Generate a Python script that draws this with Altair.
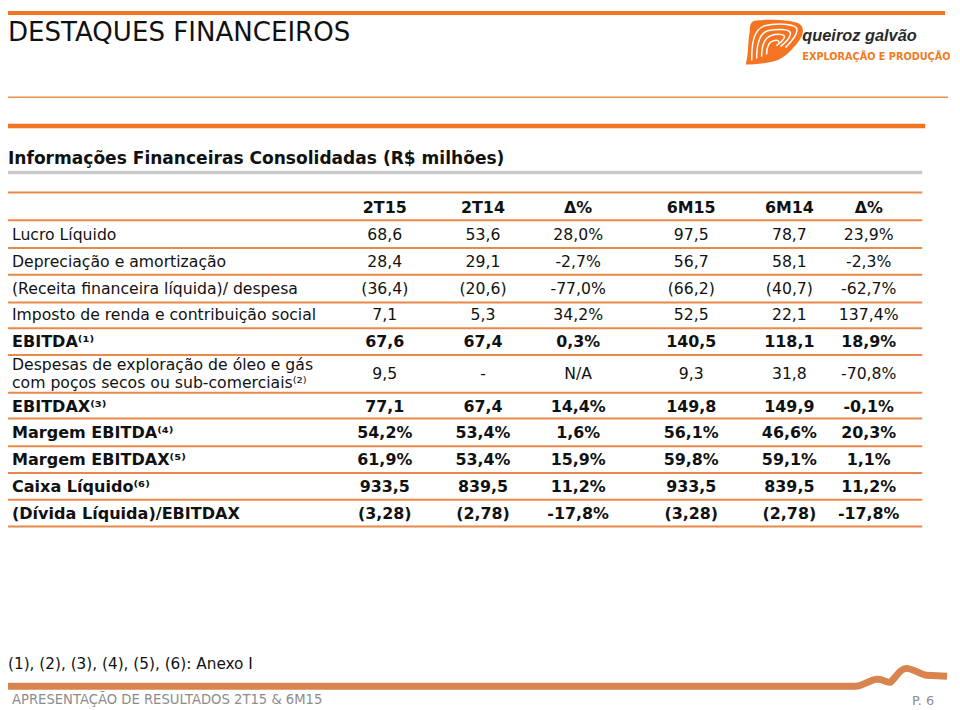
import altair as alt
import pandas as pd

# ---------------- data ----------------
title_text = "DESTAQUES FINANCEIROS"
section_text = "Informações Financeiras Consolidadas (R$ milhões)"
brand_name = "queiroz galvão"
brand_sub = "EXPLORAÇÃO E PRODUÇÃO"
footnote_text = "(1), (2), (3), (4), (5), (6): Anexo I"
footer_text = "APRESENTAÇÃO DE RESULTADOS 2T15 & 6M15"
page_text = "P. 6"

col_headers = ["2T15", "2T14", "Δ%", "6M15", "6M14", "Δ%"]
row_labels = [
    "Lucro Líquido",
    "Depreciação e amortização",
    "(Receita financeira líquida)/ despesa",
    "Imposto de renda e contribuição social",
    "EBITDA⁽¹⁾",
    "Despesas de exploração de óleo e gás\n com poços secos ou sub-comerciais⁽²⁾",
    "EBITDAX⁽³⁾",
    "Margem EBITDA⁽⁴⁾",
    "Margem EBITDAX⁽⁵⁾",
    "Caixa Líquido⁽⁶⁾",
    "(Dívida Líquida)/EBITDAX",
]
row_bold = [False, False, False, False, True, False, True, True, True, True, True]
val_2t15 = ["68,6", "28,4", "(36,4)", "7,1", "67,6", "9,5", "77,1", "54,2%", "61,9%", "933,5", "(3,28)"]
val_2t14 = ["53,6", "29,1", "(20,6)", "5,3", "67,4", "-", "67,4", "53,4%", "53,4%", "839,5", "(2,78)"]
val_d_q = ["28,0%", "-2,7%", "-77,0%", "34,2%", "0,3%", "N/A", "14,4%", "1,6%", "15,9%", "11,2%", "-17,8%"]
val_6m15 = ["97,5", "56,7", "(66,2)", "52,5", "140,5", "9,3", "149,8", "56,1%", "59,8%", "933,5", "(3,28)"]
val_6m14 = ["78,7", "58,1", "(40,7)", "22,1", "118,1", "31,8", "149,9", "46,6%", "59,1%", "839,5", "(2,78)"]
val_d_s = ["23,9%", "-2,3%", "-62,7%", "137,4%", "18,9%", "-70,8%", "-0,1%", "20,3%", "1,1%", "11,2%", "-17,8%"]
columns = [val_2t15, val_2t14, val_d_q, val_6m15, val_6m14, val_d_s]

# ---------------- layout (page pixels) ----------------
W, H = 952, 702
OFF = 8
col_x = [388, 487, 583, 697, 796, 876]
row_y = [234, 261, 288, 315, 342, 374, 407, 434, 461, 488, 515]
header_y = 207
rule_y = [191, 219, 247, 274, 302, 328, 355, 393, 419, 447, 474, 501, 528]
label_x = 12
LH = 18
table_x0, table_x1 = 4, 930

ORANGE = "#f47421"
LINE_OR = "#e8894a"
TXT = "#111111"
FONT = "DejaVu Sans"


def px(v):
    return v - OFF


XS = alt.Scale(domain=[0, W], range=[0, W], nice=False, zero=False)
YS = alt.Scale(domain=[0, H], range=[0, H], nice=False, zero=False)


def enc_xy():
    return dict(x=alt.X("x:Q", scale=XS, axis=None), y=alt.Y("y:Q", scale=YS, axis=None))


def text_layer(rows, size, weight="normal", color=TXT, align="left",
               baseline="middle", font=FONT, **kw):
    df = pd.DataFrame(rows, columns=["x", "y", "t"])
    return alt.Chart(df).mark_text(
        align=align, baseline=baseline, fontSize=size, fontWeight=weight,
        color=color, font=font, **kw
    ).encode(text="t:N", **enc_xy())


# ---------------- table cells ----------------
reg_cells, bold_cells = [], []
for j, h in enumerate(col_headers):
    bold_cells.append((px(col_x[j]), px(header_y), h))
for i in range(len(row_labels)):
    for j, col in enumerate(columns):
        cell = (px(col_x[j]), px(row_y[i]), col[i])
        (bold_cells if row_bold[i] else reg_cells).append(cell)


def label_row(i):
    n = row_labels[i].count("\n") + 1
    return (px(label_x), px(row_y[i] - (n - 1) * LH / 2), row_labels[i])


reg_labels = [label_row(i) for i in range(len(row_labels)) if not row_bold[i]]
bold_labels = [label_row(i) for i in range(len(row_labels)) if row_bold[i]]

# ---------------- rules ----------------
rules = []
for y in rule_y:
    rules.append((px(table_x0), px(table_x1), px(y), LINE_OR, 2.0))
rules += [
    (0, px(953), 2, ORANGE, 4.0),
    (0, px(956), px(95), "#e4914f", 1.5),
    (0, px(933), px(124), ORANGE, 4.5),
    (0, px(930), px(171), "#c9c9c9", 3.5),
]
rules_df = pd.DataFrame(rules, columns=["x", "x2", "y", "c", "w"])
rule_layer = alt.Chart(rules_df).mark_rule().encode(
    x=alt.X("x:Q", scale=XS, axis=None),
    x2="x2:Q",
    y=alt.Y("y:Q", scale=YS, axis=None),
    color=alt.Color("c:N", scale=None),
    strokeWidth=alt.StrokeWidth("w:Q", scale=None),
)

one = pd.DataFrame({"k": [0]})

# footer wave band
wave_path = ("M -2 681 L 855 681 C 862 681 868 675 876 674 C 882 673 885 678 890 677 "
             "C 897 670 900 663 906 663 C 912 663 918 668 926 670 L 947 671")
wave = alt.Chart(one).mark_point(
    shape=wave_path, size=4, filled=False, stroke="#d9844f", strokeWidth=7,
    opacity=1, strokeCap="butt", strokeJoin="round"
).encode(x=alt.value(0), y=alt.value(0))

# logo swirl
logo_outer = ("M -20 -21 C -8 -23 18 -22 25 -18 C 31 -14 29 -6 24 0 C 18 8 10 16 2 19 "
              "C -8 22 -20 23 -29 23 C -26 12 -27 0 -25 -10 C -25 -16 -24 -20 -20 -21 Z")
logo_lines = ("M -23 19 C -23 4 -22 -12 -10 -16 C 2 -19 19 -18 22 -14 C 25 -9 18 -1 11 6 "
              "M -18 17 C -18 5 -16 -8 -7 -11 C 2 -13 15 -13 16 -9 C 17 -5 12 0 6 5 "
              "M -13 15 C -13 6 -11 -3 -4 -6 C 2 -8 10 -8 10 -5 C 10 -2 6 1 2 4 "
              "M -8 13 C -8 6 -6 0 -1 -1 C 3 -2 5 -1 4 1")
lx, ly = px(781), px(39)
logo_a = alt.Chart(one).mark_point(
    shape=logo_outer, size=4, filled=True, fill=ORANGE, strokeWidth=0, opacity=1
).encode(x=alt.value(lx), y=alt.value(ly))
logo_b = alt.Chart(one).mark_point(
    shape=logo_lines, size=4, filled=False, stroke="white", strokeWidth=1.5, opacity=1
).encode(x=alt.value(lx), y=alt.value(ly))

layers = [
    rule_layer,
    wave,
    logo_a,
    logo_b,
    text_layer([(0, px(38), title_text)], 26.3, baseline="alphabetic"),
    text_layer([(0, px(162), section_text)], 17.2, weight="bold", baseline="alphabetic"),
    text_layer([(px(809), px(38), brand_name)], 16.5, weight="bold", color="#2a2a2a",
               baseline="alphabetic", font="Liberation Sans", fontStyle="italic"),
    text_layer([(px(809), px(57.5), brand_sub)], 9.8, weight="bold", color="#f07a1e",
               baseline="alphabetic"),
    text_layer(reg_labels, 15.8, lineBreak="\n", lineHeight=LH),
    text_layer(bold_labels, 16.2, weight="bold"),
    text_layer(reg_cells, 15.8, align="center"),
    text_layer(bold_cells, 16, weight="bold", align="center"),
    text_layer([(0, px(667), footnote_text)], 15.4),
    text_layer([(px(12), px(703), footer_text)], 13.3, color="#8c8c8c"),
    text_layer([(px(942), px(704), page_text)], 13, color="#8c8c8c", align="right"),
]

chart = alt.layer(*layers).properties(
    width=W, height=H,
    autosize=alt.AutoSizeParams(type="none"),
    padding=0,
    background="white",
).configure_view(stroke=None)

chart.save("out.html", embed_options={"renderer": "svg", "actions": False})
